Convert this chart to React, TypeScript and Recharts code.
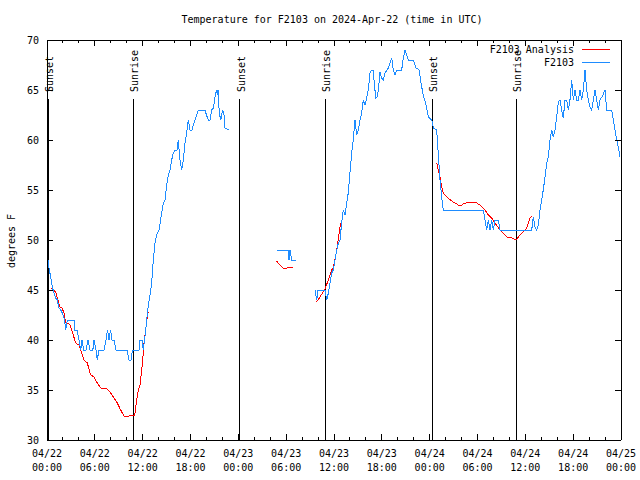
import React from "react";
import { LineChart, Line, XAxis, YAxis, ReferenceLine, Legend } from "recharts";

// Station F2103 temperature, hours since 04/22 00:00 UTC. null = gap in record.
const obsHours = [
  0.13, 0.25, 0.46, 0.66, 1.08, 1.29, 1.5, 1.72, 1.92, 2.2, 2.35, 2.55, 3.39, 3.5, 3.76, 4.01, 4.23, 4.4, 4.58, 4.9,
  5.14, 5.4, 5.75, 5.9, 6.15, 6.3, 6.52, 7.15, 7.4, 7.59, 7.78, 7.97, 8.15, 8.4, 8.65, 10.03, 10.29, 10.54, 10.73, 11.54,
  11.67, 11.92, 12.08, 12.38, 12.63, 12.92, 13.13, 13.33, 13.55, 13.76, 14.05, 14.39, 14.59, 14.8, 15.02, 15.22, 15.43, 15.64, 15.84, 16.06,
  16.31, 16.47, 16.68, 16.9, 17.1, 17.31, 17.52, 17.72, 17.94, 18.19, 18.35, 18.57, 18.98, 19.82, 20.0, 20.23, 20.45, 20.66, 20.89, 21.07,
  21.26, 21.36, 21.45, 21.61, 21.79, 22.04, 22.2, 22.33, 22.87, 22.9,
  28.85, 30.23, 30.36, 30.48, 30.7, 31.24, 31.3,
  33.62, 33.83, 34.0, 34.87, 35.09, 35.29, 35.5, 35.71, 35.91, 36.13, 36.34, 36.55, 36.75, 36.96, 37.17, 37.38, 37.59, 37.79, 38.0,
  38.22, 38.42, 38.63, 38.84, 39.05, 39.26, 39.47, 39.68, 39.89, 40.1, 40.3, 40.52, 40.73, 40.9, 41.06, 41.23, 41.4, 41.56, 41.77, 41.98,
  42.2, 42.4, 42.81, 43.03, 43.24, 43.44, 43.65, 43.86, 44.49, 44.69, 44.91, 45.12, 45.32, 45.95, 46.29, 46.7, 46.88, 47.2, 47.54, 47.83,
  48.26, 48.46, 48.88, 49.01, 49.21, 49.3, 49.51, 49.71, 54.73, 54.94, 55.15, 55.36, 55.57, 55.78, 55.98, 56.2, 56.61, 56.82, 60.8, 61.0,
  61.21, 61.43, 61.63, 61.84, 62.25, 62.47, 62.68, 62.88, 63.1, 63.31, 63.51, 63.72, 63.93, 64.14, 64.35, 64.56, 64.76, 64.98, 65.19, 65.39,
  65.6, 65.82, 66.02, 66.23, 66.44, 66.65, 66.86, 67.07, 67.27, 67.49, 67.7, 67.9, 68.11, 68.32, 68.53, 68.74, 68.95, 69.15, 69.37, 69.74,
  69.99, 70.21, 70.83, 71.04, 71.25, 71.47, 71.66, 71.88,
];
const obsTemps = [
  48, 47.2, 46.3, 45.3, 44.2, 44, 43.2, 43, 42.7, 42, 41, 42, 42, 41, 41, 40, 39, 40, 39, 39,
  40, 39, 39, 40, 39, 38, 39, 39, 40, 41, 40, 41, 40, 40, 39, 39, 38, 38, 39, 39,
  40, 40, 39, 41, 43, 44.5, 45.7, 48, 49.7, 50.5, 51, 52.7, 53.7, 54, 55.5, 56.5, 57, 58, 58.7, 59,
  59, 60, 58, 57, 58, 59.7, 60.7, 62, 61, 61, 61.5, 62, 63, 63, 62.5, 62, 62, 63, 63.2, 64.3,
  65, 64.5, 65, 62.7, 62, 63, 62.5, 61.2, 61, null,
  49, 49, 48, 49, 48, 48, null,
  45, 44, 45, 45, 44, 44.7, 45.7, 46.7, 47, 48, 49, 49.7, 50, 51.7, 53, 52.5, 53.7, 54.7, 56.7,
  58.7, 60, 62, 60.5, 61, 62, 62.7, 64, 63.5, 64.2, 65, 66.7, 67, 67, 65.7, 64.2, 64.3, 65, 66.8, 66.2,
  66, 66.7, 67.2, 67.7, 68.2, 67, 66.5, 67, 67, 68.2, 69, 68.5, 68, 68, 67.2, 67, 65.8, 64.5, 63.5, 62.3,
  62, 61.2, 61, 59.5, 57, 56, 54.3, 53, 53, 52, 51, 52, 51, 52, 51, 52, 52, 51, 51, 52.3,
  51.3, 51, 51.5, 53, 55, 56.3, 57.7, 58.3, 60, 61, 60.3, 61, 62.3, 63.8, 64, 63, 62.2, 64, 64, 63,
  64, 66, 64, 65, 64, 64, 65, 64, 65, 67, 65, 64, 63.3, 63, 64, 65, 64, 63, 64, 64.5,
  65, 63, 63, 62, 61, 60, 59.3, 58.3,
];

const anaHours = [
  0.59, 1.09, 1.29, 1.63, 1.88, 2.13, 2.32, 2.55, 2.89, 3.17, 3.6, 4.01, 4.23, 4.64, 5.06, 5.48, 5.9, 6.31, 6.74, 7.56,
  7.99, 8.4, 8.82, 9.24, 9.66, 10.29, 10.7, 11.0, 11.25, 11.45, 11.67, 11.88, 12.08, 12.2, 12.38, 12.63, 12.76, 12.8,
  28.81, 29.1, 29.64, 30.1, 30.23, 30.9, 31.0,
  33.74, 33.99, 34.87, 35.29, 35.71, 35.91, 36.34, 36.75, 36.84, 36.9,
  48.88, 49.09, 49.3, 49.51, 49.71, 50.14, 50.96, 51.81, 52.22, 52.85, 53.9, 54.31, 54.94, 55.36, 55.78, 56.2, 56.82, 57.66, 58.29, 58.83,
  59.33, 59.71, 60.17, 60.59, 60.87,
];
const anaTemps = [
  45.2, 44.8, 44.2, 43.3, 43.2, 42.7, 41.8, 41.7, 41.5, 40.8, 39.7, 39.5, 39, 38, 37.7, 36.5, 36.3, 35.7, 35.2, 35.1,
  34.7, 34.2, 33.7, 33, 32.4, 32.4, 32.5, 32.5, 34, 35, 35.5, 37, 38.7, 40, 41, 42.7, 42.8, null,
  47.9, 47.6, 47.2, 47.2, 47.3, 47.3, null,
  43.8, 44, 45.1, 46, 47, 47.2, 49, 51.3, 51.7, null,
  57.7, 57, 56.3, 55.3, 54.7, 54.3, 53.8, 53.4, 53.6, 53.8, 53.7, 53.5, 53, 52.5, 52.2, 51.7, 51, 50.3, 50.2, 50,
  50.5, 50.8, 51.2, 52.2, 52.4,
];

const yTicks = [30, 35, 40, 45, 50, 55, 60, 65, 70];
const xTicks = [0, 2, 4, 6, 8, 10, 12, 14, 16, 18, 20, 22, 24, 26, 28, 30, 32, 34, 36, 38, 40, 42, 44, 46, 48, 50, 52, 54, 56, 58, 60, 62, 64, 66, 68, 70, 72];
const tickDays = ["04/22", "04/22", "04/22", "04/22", "04/23", "04/23", "04/23", "04/23", "04/24", "04/24", "04/24", "04/24", "04/25"];
const tickTimes = ["00:00", "06:00", "12:00", "18:00", "00:00", "06:00", "12:00", "18:00", "00:00", "06:00", "12:00", "18:00", "00:00"];

const sunHours = [0.17, 10.83, 24.2, 34.92, 48.35, 58.88];
const sunLabels = ["Sunset", "Sunrise", "Sunset", "Sunrise", "Sunset", "Sunrise"];

const FONT = '"DejaVu Sans Mono", "Liberation Mono", monospace';
const BLUE = "#1e8cff";
const RED = "#ff0000";

const obsData = obsHours.map((t, i) => ({ t, v: obsTemps[i] }));
const anaData = anaHours.map((t, i) => ({ t, v: anaTemps[i] }));

const axisLine = { stroke: "#000", shapeRendering: "crispEdges" };

function BottomTick({ x, y, payload }: any) {
  const major = payload.value % 6 === 0;
  const i = payload.value / 6;
  return (
    <g>
      <line x1={x} x2={x} y1={y} y2={y - (major ? 6 : 3)} stroke="#000" shapeRendering="crispEdges" />
      {major && (
        <text x={x} y={y + 16.5} textAnchor="middle" fontFamily={FONT} fontSize={10} fill="#000">
          {tickDays[i]}
        </text>
      )}
      {major && (
        <text x={x} y={y + 30.5} textAnchor="middle" fontFamily={FONT} fontSize={10} fill="#000">
          {tickTimes[i]}
        </text>
      )}
    </g>
  );
}

function TopTick({ x, y, payload }: any) {
  const major = payload.value % 6 === 0;
  return <line x1={x} x2={x} y1={y} y2={y + (major ? 6 : 3)} stroke="#000" shapeRendering="crispEdges" />;
}

function LeftTick({ x, y, payload }: any) {
  return (
    <g>
      <line x1={x} x2={x + 6} y1={y} y2={y} stroke="#000" shapeRendering="crispEdges" />
      <text x={x - 8} y={y + 3.5} textAnchor="end" fontFamily={FONT} fontSize={10} fill="#000">
        {payload.value}
      </text>
    </g>
  );
}

function RightTick({ x, y }: any) {
  return <line x1={x} x2={x - 6} y1={y} y2={y} stroke="#000" shapeRendering="crispEdges" />;
}

function sunLabel(text: string) {
  return ({ viewBox }: any) => (
    <text
      transform={`translate(${viewBox.x + 5},${viewBox.y - 7}) rotate(-90)`}
      fontFamily={FONT}
      fontSize={10}
      fill="#000"
    >
      {text}
    </text>
  );
}

function LegendBox() {
  return (
    <svg width={150} height={30} style={{ display: "block" }}>
      <text x={114} y={11} textAnchor="end" fontFamily={FONT} fontSize={10} fill="#000">F2103 Analysis</text>
      <line x1={122} x2={150} y1={7.5} y2={7.5} stroke={RED} shapeRendering="crispEdges" />
      <text x={114} y={24} textAnchor="end" fontFamily={FONT} fontSize={10} fill="#000">F2103</text>
      <line x1={122} x2={150} y1={20.5} y2={20.5} stroke={BLUE} shapeRendering="crispEdges" />
    </svg>
  );
}

export default function App() {
  return (
    <div style={{ position: "absolute", left: 0, top: 0, width: 640, height: 480, background: "#fff" }}>
      <div
        style={{
          position: "absolute", left: 332, top: 14, transform: "translateX(-50%)",
          fontFamily: FONT, fontSize: 10, lineHeight: "12px", whiteSpace: "nowrap", color: "#000",
        }}
      >
        Temperature for F2103 on 2024-Apr-22 (time in UTC)
      </div>
      <LineChart width={640} height={480} margin={{ top: 39, right: 18, bottom: 0, left: 0 }}>
        <XAxis
          dataKey="t" type="number" domain={[0, 72]} ticks={xTicks} interval={0}
          allowDataOverflow height={40} tickSize={0} tickMargin={0} tickLine={false}
          axisLine={axisLine} tick={<BottomTick />}
        />
        <XAxis
          xAxisId="top" orientation="top" dataKey="t" type="number" domain={[0, 72]} ticks={xTicks} interval={0}
          allowDataOverflow height={1} tickSize={0} tickMargin={0} tickLine={false}
          axisLine={axisLine} tick={<TopTick />}
        />
        <YAxis
          type="number" domain={[30, 70]} ticks={yTicks} interval={0} allowDataOverflow
          width={47} tickSize={0} tickMargin={0} tickLine={false} axisLine={axisLine} tick={<LeftTick />}
          label={{
            content: ({ viewBox }: any) => (
              <text
                transform={`translate(15,${viewBox.y + viewBox.height / 2 + 1}) rotate(-90)`}
                textAnchor="middle" fontFamily={FONT} fontSize={10} fill="#000"
              >
                degrees F
              </text>
            ),
          }}
        />
        <YAxis
          yAxisId="r" orientation="right" type="number" domain={[30, 70]} ticks={yTicks} interval={0} allowDataOverflow
          width={1} tickSize={0} tickMargin={0} tickLine={false} axisLine={axisLine} tick={<RightTick />}
        />
        {sunHours.map((h, i) => (
          <ReferenceLine
            key={i}
            segment={[{ x: h, y: 64.1 }, { x: h, y: 30 }]}
            stroke="#000"
            shapeRendering="crispEdges"
            label={sunLabel(sunLabels[i])}
          />
        ))}
        <Line
          data={anaData} dataKey="v" name="F2103 Analysis" type="linear" stroke={RED} strokeWidth={1}
          dot={false} activeDot={false} isAnimationActive={false} shapeRendering="crispEdges"
        />
        <Line
          data={obsData} dataKey="v" name="F2103" type="linear" stroke={BLUE} strokeWidth={1}
          dot={false} activeDot={false} isAnimationActive={false} shapeRendering="crispEdges"
        />
        <Legend
          verticalAlign="middle"
          wrapperStyle={{ left: 460, top: 42, width: 150, height: 30 }}
          content={() => <LegendBox />}
        />
      </LineChart>
    </div>
  );
}
